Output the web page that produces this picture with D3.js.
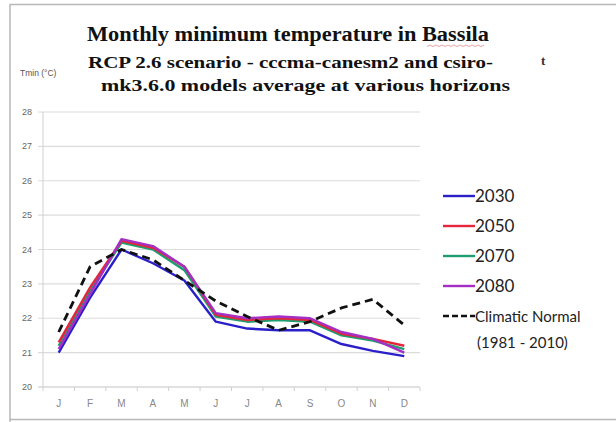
<!DOCTYPE html>
<html>
<head>
<meta charset="utf-8">
<script src="https://cdnjs.cloudflare.com/ajax/libs/d3/7.8.5/d3.min.js"></script>
<style>
  body { margin: 0; background: #fff; }
</style>
</head>
<body>
<script>
var months = ['J', 'F', 'M', 'A', 'M', 'J', 'J', 'A', 'S', 'O', 'N', 'D'];
var yTicks = [20, 21, 22, 23, 24, 25, 26, 27, 28];

var t2030 = [21.0, 22.6, 24.0, 23.6, 23.1, 21.9, 21.7, 21.65, 21.65, 21.25, 21.05, 20.9];
var t2050 = [21.3, 22.9, 24.25, 24.05, 23.5, 22.1, 21.95, 22.0, 21.95, 21.55, 21.4, 21.2];
var t2070 = [21.2, 22.8, 24.2, 24.0, 23.4, 22.05, 21.9, 21.95, 21.9, 21.5, 21.35, 21.1];
var t2080 = [21.1, 22.7, 24.3, 24.1, 23.5, 22.15, 22.0, 22.05, 22.0, 21.6, 21.4, 21.0];
var normal = [21.6, 23.5, 24.0, 23.7, 23.1, 22.5, 22.05, 21.65, 21.9, 22.3, 22.55, 21.8];

var series = [
  { name: '2030', values: t2030, color: '#2a1fc8' },
  { name: '2050', values: t2050, color: '#e3263a' },
  { name: '2070', values: t2070, color: '#1f9e72' },
  { name: '2080', values: t2080, color: '#a52fc4' },
  { name: 'Climatic Normal', values: normal, color: '#111', dash: true }
];

var svg = d3.select('body').append('svg')
  .attr('width', 616)
  .attr('height', 422);

// outer frame
svg.append('path')
  .attr('d', 'M10,422 V4.5 H616 M10,419.5 H616')
  .attr('fill', 'none')
  .attr('stroke', '#b8b8b8')
  .attr('stroke-width', 1.5);

var x = d3.scaleBand().domain(d3.range(12)).range([43, 420]);
var y = d3.scaleLinear().domain([20, 28]).range([387, 112]);

// gridlines
svg.append('g').selectAll('line')
  .data(yTicks)
  .join('line')
  .attr('x1', 38)
  .attr('x2', 420)
  .attr('y1', function(d) { return y(d); })
  .attr('y2', function(d) { return y(d); })
  .attr('stroke', function(d) { return d === 20 ? '#c4c4c4' : '#dcdcdc'; })
  .attr('stroke-width', 1.2);

svg.append('line')
  .attr('x1', 43).attr('x2', 43)
  .attr('y1', y(28)).attr('y2', y(20))
  .attr('stroke', '#d0d0d0');

// category ticks
svg.append('g').selectAll('line')
  .data(d3.range(13))
  .join('line')
  .attr('x1', function(d) { return 43 + d * x.bandwidth(); })
  .attr('x2', function(d) { return 43 + d * x.bandwidth(); })
  .attr('y1', y(20))
  .attr('y2', y(20) + 4)
  .attr('stroke', '#d0d0d0');

svg.append('g').selectAll('text')
  .data(yTicks)
  .join('text')
  .attr('x', 32)
  .attr('y', function(d) { return y(d) + 3; })
  .attr('text-anchor', 'end')
  .style('font-family', 'Liberation Sans')
  .style('font-size', '9px')
  .style('fill', '#666')
  .text(function(d) { return d; });

svg.append('g').selectAll('text')
  .data(months)
  .join('text')
  .attr('x', function(d, i) { return x(i) + x.bandwidth() / 2; })
  .attr('y', 407)
  .attr('text-anchor', 'middle')
  .style('font-family', 'Liberation Sans')
  .style('font-size', '10px')
  .style('fill', '#888')
  .text(function(d) { return d; });

var line = d3.line()
  .x(function(d, i) { return x(i) + x.bandwidth() / 2; })
  .y(function(d) { return y(d); });

// draw order: green hidden underneath, dashed normal on top
var drawOrder = [series[2], series[0], series[1], series[3], series[4]];
svg.append('g').selectAll('path')
  .data(drawOrder)
  .join('path')
  .attr('d', function(d) { return line(d.values); })
  .attr('fill', 'none')
  .attr('stroke', function(d) { return d.color; })
  .attr('stroke-width', function(d) { return d.dash ? 2.8 : 2.4; })
  .attr('stroke-dasharray', function(d) { return d.dash ? '8,5' : null; })
  .attr('stroke-linejoin', 'round');

// titles
svg.append('text')
  .attr('x', 87).attr('y', 41)
  .attr('textLength', 402)
  .attr('lengthAdjust', 'spacingAndGlyphs')
  .style('font-family', 'Liberation Serif')
  .style('font-weight', 'bold')
  .style('font-size', '20px')
  .style('fill', '#111')
  .text('Monthly minimum  temperature in Bassila');

svg.append('path')
  .attr('d', d3.range(0, 60, 3).map(function(d, i) {
    return (i === 0 ? 'M' : 'L') + (427 + d) + ',' + (i % 2 ? 45 : 46.5);
  }).join(''))
  .attr('fill', 'none')
  .attr('stroke', '#e07a80')
  .attr('stroke-width', 0.7);

svg.append('text')
  .attr('x', 88).attr('y', 68)
  .attr('textLength', 405)
  .attr('lengthAdjust', 'spacingAndGlyphs')
  .style('font-family', 'Liberation Serif')
  .style('font-weight', 'bold')
  .style('font-size', '17px')
  .style('fill', '#111')
  .text('RCP 2.6 scenario - cccma-canesm2 and csiro-');

svg.append('text')
  .attr('x', 101).attr('y', 91)
  .attr('textLength', 409)
  .attr('lengthAdjust', 'spacingAndGlyphs')
  .style('font-family', 'Liberation Serif')
  .style('font-weight', 'bold')
  .style('font-size', '17px')
  .style('fill', '#111')
  .text('mk3.6.0 models average at various horizons');

svg.append('text')
  .attr('x', 541).attr('y', 65)
  .style('font-family', 'Liberation Serif')
  .style('font-weight', 'bold')
  .style('font-size', '13px')
  .style('fill', '#333')
  .text('t');

svg.append('text')
  .attr('x', 20).attr('y', 76)
  .style('font-family', 'Liberation Sans')
  .style('font-size', '8.5px')
  .style('fill', '#555')
  .text('Tmin (°C)');

// legend
var legendY = [196, 226, 256, 286, 316];
var legend = svg.append('g').selectAll('g')
  .data(series)
  .join('g')
  .attr('transform', function(d, i) { return 'translate(443,' + legendY[i] + ')'; });

legend.append('line')
  .attr('x1', 0).attr('x2', 32)
  .attr('stroke', function(d) { return d.color; })
  .attr('stroke-width', 2.4)
  .attr('stroke-dasharray', function(d) { return d.dash ? '6,3' : null; });

legend.append('text')
  .attr('x', 32)
  .attr('y', 6)
  .style('font-family', 'Lato')
  .style('font-size', function(d) { return d.dash ? '15px' : '17px'; })
  .style('fill', '#222')
  .text(function(d) { return d.name; });

svg.append('text')
  .attr('x', 477).attr('y', 348)
  .style('font-family', 'Lato')
  .style('font-size', '15px')
  .style('fill', '#222')
  .text('(1981 - 2010)');
</script>
</body>
</html>
